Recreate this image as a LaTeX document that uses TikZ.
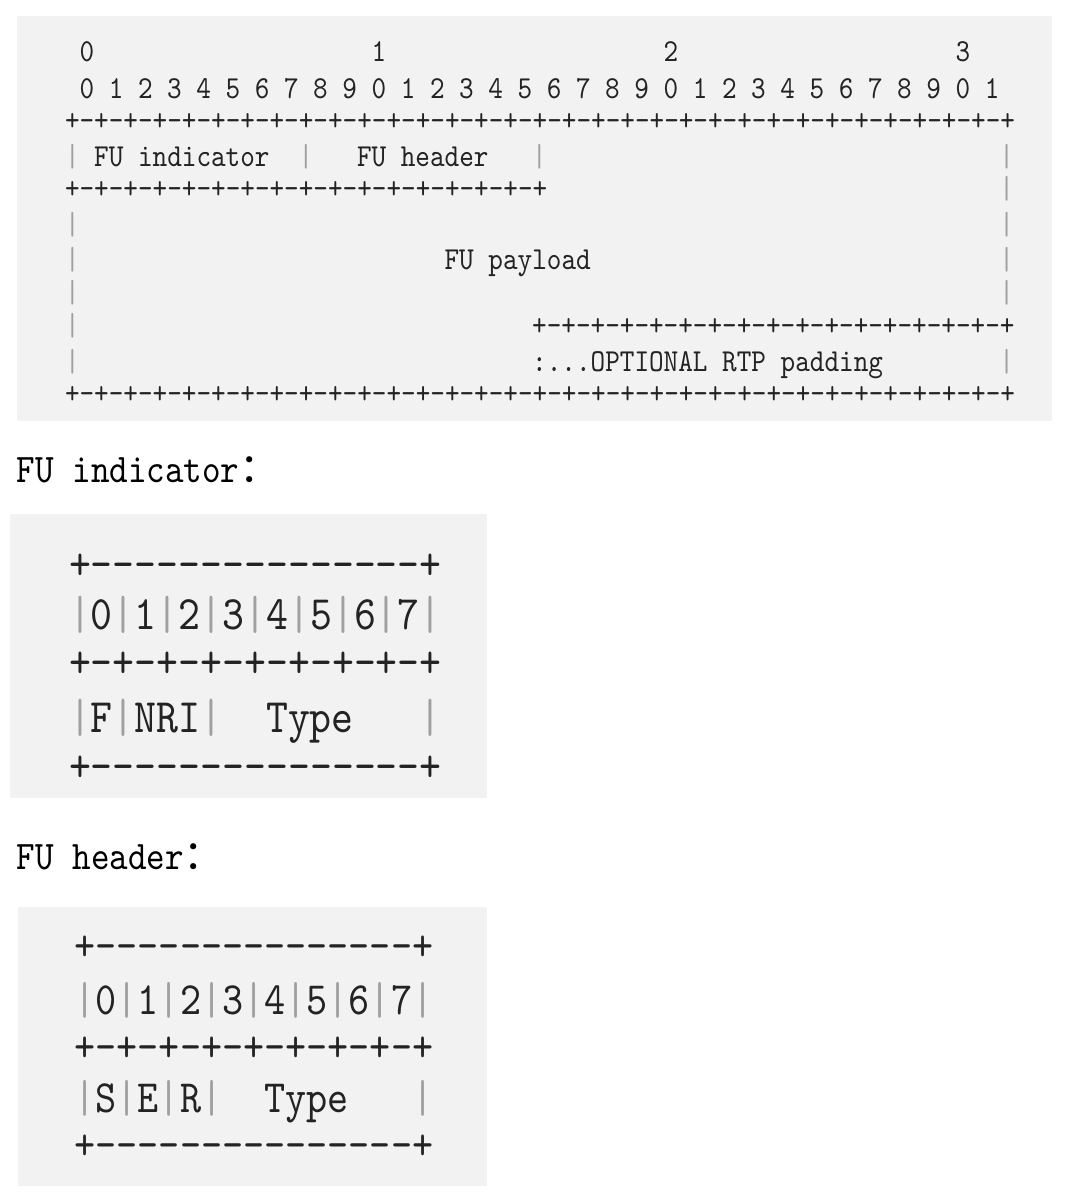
\documentclass[tikz,border=0pt]{standalone}
\usepackage{fontspec}
\newfontfamily\asciifont{lmmono10-regular.otf}[FakeStretch=0.87]
\newfontfamily\cjk{Noto Sans CJK SC}
\usetikzlibrary{math}

\definecolor{boxgray}{RGB}{242,242,242}
\definecolor{bargray}{RGB}{160,160,160}
\definecolor{ink}{RGB}{35,35,35}
\newcommand{\vb}{\textcolor{bargray}{|}}

\tikzset{
  cell/.style={anchor=west, inner sep=0pt, outer sep=0pt, text=ink, text depth=0pt},
  wide/.style={cell, font=\fontsize{16}{16}\selectfont\asciifont, text height=9.9pt},
  bits/.style={cell, font=\fontsize{24}{24}\selectfont\asciifont, text height=14.9pt},
  bitsb/.style={cell, font=\fontsize{23.1}{23}\selectfont\asciifont, text height=14.3pt},
  caption/.style={cell, text=black, font=\fontsize{20.3}{20}\selectfont\asciifont, text height=12.6pt}
}

\begin{document}
\begin{tikzpicture}[x=0.5pt, y=-0.5pt]
  \useasboundingbox (0,0) rectangle (1068,1200);
  \tikzmath{\cw = 7.3; \cwa = 10.95; \cwb = 10.55;}

  % FU packet
  \fill[boxgray] (17,16) rectangle (1052,421);
  \begin{scope}[shift={(65,0)}, x=\cw pt]
    % bit numbers
    \foreach \t in {0,1,2,3}
      \node[wide] (ten\t) at (1+20*\t, 52) {\t};
    \foreach \i in {0,...,31} {
      \pgfmathtruncatemacro{\d}{mod(\i,10)}
      \node[wide] (bit\i) at (1+2*\i, 89) {\d};
    }
    \node[wide] (rulea) at (0,121) {+-+-+-+-+-+-+-+-+-+-+-+-+-+-+-+-+-+-+-+-+-+-+-+-+-+-+-+-+-+-+-+-+};

    % indicator and header
    \node[wide] (ind) at (2,157) {FU indicator};
    \node[wide] (hdr) at (20,157) {FU header};
    \node[wide] (sepa) at (16,157) {\vb};
    \node[wide] (sepb) at (32,157) {\vb};
    \node[wide] (ruleb) at (0,189) {+-+-+-+-+-+-+-+-+-+-+-+-+-+-+-+-+};

    % payload
    \node[wide] (pay) at (26,260) {FU payload};
    \node[wide] (rulec) at (32,326) {+-+-+-+-+-+-+-+-+-+-+-+-+-+-+-+-+};
    \node[wide] (pad) at (32,362) {:...OPTIONAL RTP padding};
    \node[wide] (ruled) at (0,394) {+-+-+-+-+-+-+-+-+-+-+-+-+-+-+-+-+-+-+-+-+-+-+-+-+-+-+-+-+-+-+-+-+};

    % side bars
    \foreach \r in {157,225,260,293,326,362}
      \node[wide] (lbar\r) at (0,\r) {\vb};
    \foreach \r in {157,189,225,260,293,362}
      \node[wide] (rbar\r) at (64,\r) {\vb};
  \end{scope}

  % FU indicator
  \node[caption] (capind) at (17,470) {FU indicator{\cjk ：}};
  \fill[boxgray] (10,514) rectangle (487,798);
  \begin{scope}[shift={(69,0)}, x=\cwa pt]
    \node[bits] (indtop) at (0,565) {+---------------+};
    \node[bits] (indnum) at (0,615) {\vb0\vb1\vb2\vb3\vb4\vb5\vb6\vb7\vb};
    \node[bits] (indmid) at (0,663) {+-+-+-+-+-+-+-+-+};
    \node[bits] (indfld) at (0,718) {\vb{}F\vb{}NRI\vb};
    \node[bits] (indtyp) at (9,718) {Type};
    \node[bits] (indend) at (16,718) {\vb};
    \node[bits] (indbot) at (0,767) {+---------------+};
  \end{scope}

  % FU header
  \node[caption] (caphdr) at (17,857) {FU header{\cjk ：}};
  \fill[boxgray] (18,907) rectangle (487,1186);
  \begin{scope}[shift={(74.5,0)}, x=\cwb pt]
    \node[bitsb] (hdrtop) at (0,946) {+---------------+};
    \node[bitsb] (hdrnum) at (0,1000) {\vb0\vb1\vb2\vb3\vb4\vb5\vb6\vb7\vb};
    \node[bitsb] (hdrmid) at (0,1047) {+-+-+-+-+-+-+-+-+};
    \node[bitsb] (hdrfld) at (0,1098) {\vb{}S\vb{}E\vb{}R\vb};
    \node[bitsb] (hdrtyp) at (9,1098) {Type};
    \node[bitsb] (hdrend) at (16,1098) {\vb};
    \node[bitsb] (hdrbot) at (0,1145) {+---------------+};
  \end{scope}
\end{tikzpicture}
\end{document}
